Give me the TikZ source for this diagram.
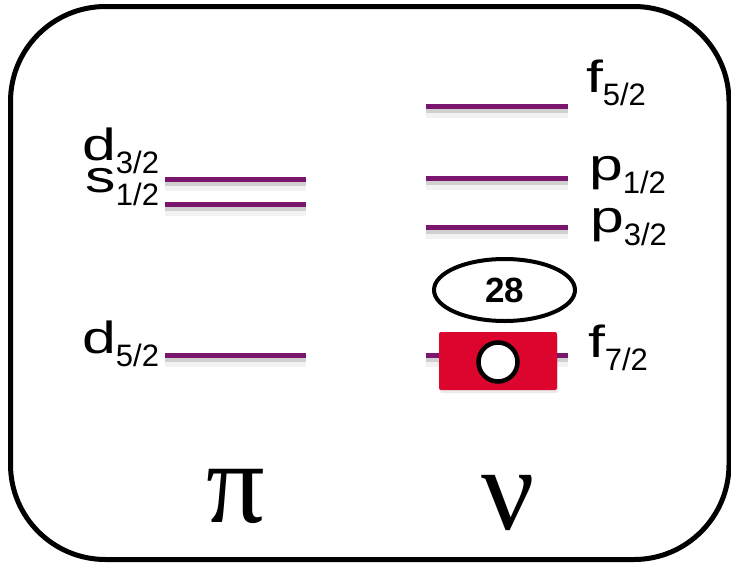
\documentclass[tikz,border=0pt]{standalone}
\usepackage{fontspec}
\setmainfont{Liberation Sans}
\newfontfamily\greekfont{Liberation Serif}
\usepackage{graphicx}
\usetikzlibrary{shapes.geometric}
\definecolor{lvl}{RGB}{122,22,110}
\definecolor{boxred}{RGB}{220,5,45}
\newcommand{\orb}[2]{{\fontsize{45}{45}\selectfont\scalebox{1.35}[1]{#1}}\smash{\raisebox{-13pt}{\fontsize{31}{31}\selectfont #2}}}
\tikzset{
  level/.style={draw=lvl,line width=5pt},
  lvlshadow/.style={draw=black,line width=6pt,opacity=0.14},
  lbl/.style={inner sep=0pt,outer sep=0pt},
  greek/.style={inner sep=0pt,font=\greekfont\fontsize{112}{112}\selectfont},
}
\begin{document}
\begin{tikzpicture}[x=1pt,y=-1pt]
\useasboundingbox (0,0) rectangle (731,563);
% frame
\draw[line width=5pt,rounded corners=95pt] (10.5,6.5) rectangle (729,559.5);
% level coordinates
\foreach \n/\xa/\xb/\y in {pd3/165/306/179, ps1/165/306/204, pd5/165/306/355,
                           nf5/426/568/106, np1/426/568/178, np3/426/568/227, nf7/426/568/355}{
  \coordinate (\n-l) at (\xa,\y);
  \coordinate (\n-r) at (\xb,\y);
}
\foreach \n in {pd3,ps1,pd5,nf5,np1,np3,nf7}{
  \draw[lvlshadow,line width=12pt,opacity=0.05] ([yshift=-6pt]\n-l) -- ([yshift=-6pt]\n-r);
  \draw[lvlshadow] ([yshift=-4pt]\n-l) -- ([yshift=-4pt]\n-r);
  \draw[level] (\n-l) -- (\n-r);
}
% labels
\node[lbl,anchor=base east] (ld3) at (159,160) {\orb{d}{3/2}};
\node[lbl,anchor=base east] (ls1) at (159,192) {\orb{s}{1/2}};
\node[lbl,anchor=base east] (ld5) at (159,353) {\orb{d}{5/2}};
\node[lbl,anchor=base west] (lf5) at (586,92) {\orb{f}{5/2}};
\node[lbl,anchor=base west] (lp1) at (589,180) {\orb{p}{1/2}};
\node[lbl,anchor=base west] (lp3) at (590,232) {\orb{p}{3/2}};
\node[lbl,anchor=base west] (lf7) at (588,357) {\orb{f}{7/2}};
% closed shell 28
\node[draw,line width=4pt,ellipse,minimum width=141pt,minimum height=62pt,inner sep=0pt,
      font=\bfseries\fontsize{35}{35}\selectfont] (shell) at (504.5,290) {28};
% hole box
\node[fill=black,opacity=0.08,rounded corners=2pt,minimum width=118pt,minimum height=58pt,inner sep=0pt] (boxsh) at (499,364) {};
\node[fill=boxred,rounded corners=2pt,minimum width=118pt,minimum height=58pt,inner sep=0pt] (box) at (498,361) {};
\node[circle,draw,fill=white,line width=4.5pt,minimum size=39pt,inner sep=0pt] (hole) at (498,362) {};
% greek
\node[greek,font=\greekfont\fontsize{116}{116}\selectfont] (pi) at (236,496) {π};
\node[greek,font=\greekfont\fontsize{118}{118}\selectfont] (nu) at (508,503) {ν};
\end{tikzpicture}
\end{document}
